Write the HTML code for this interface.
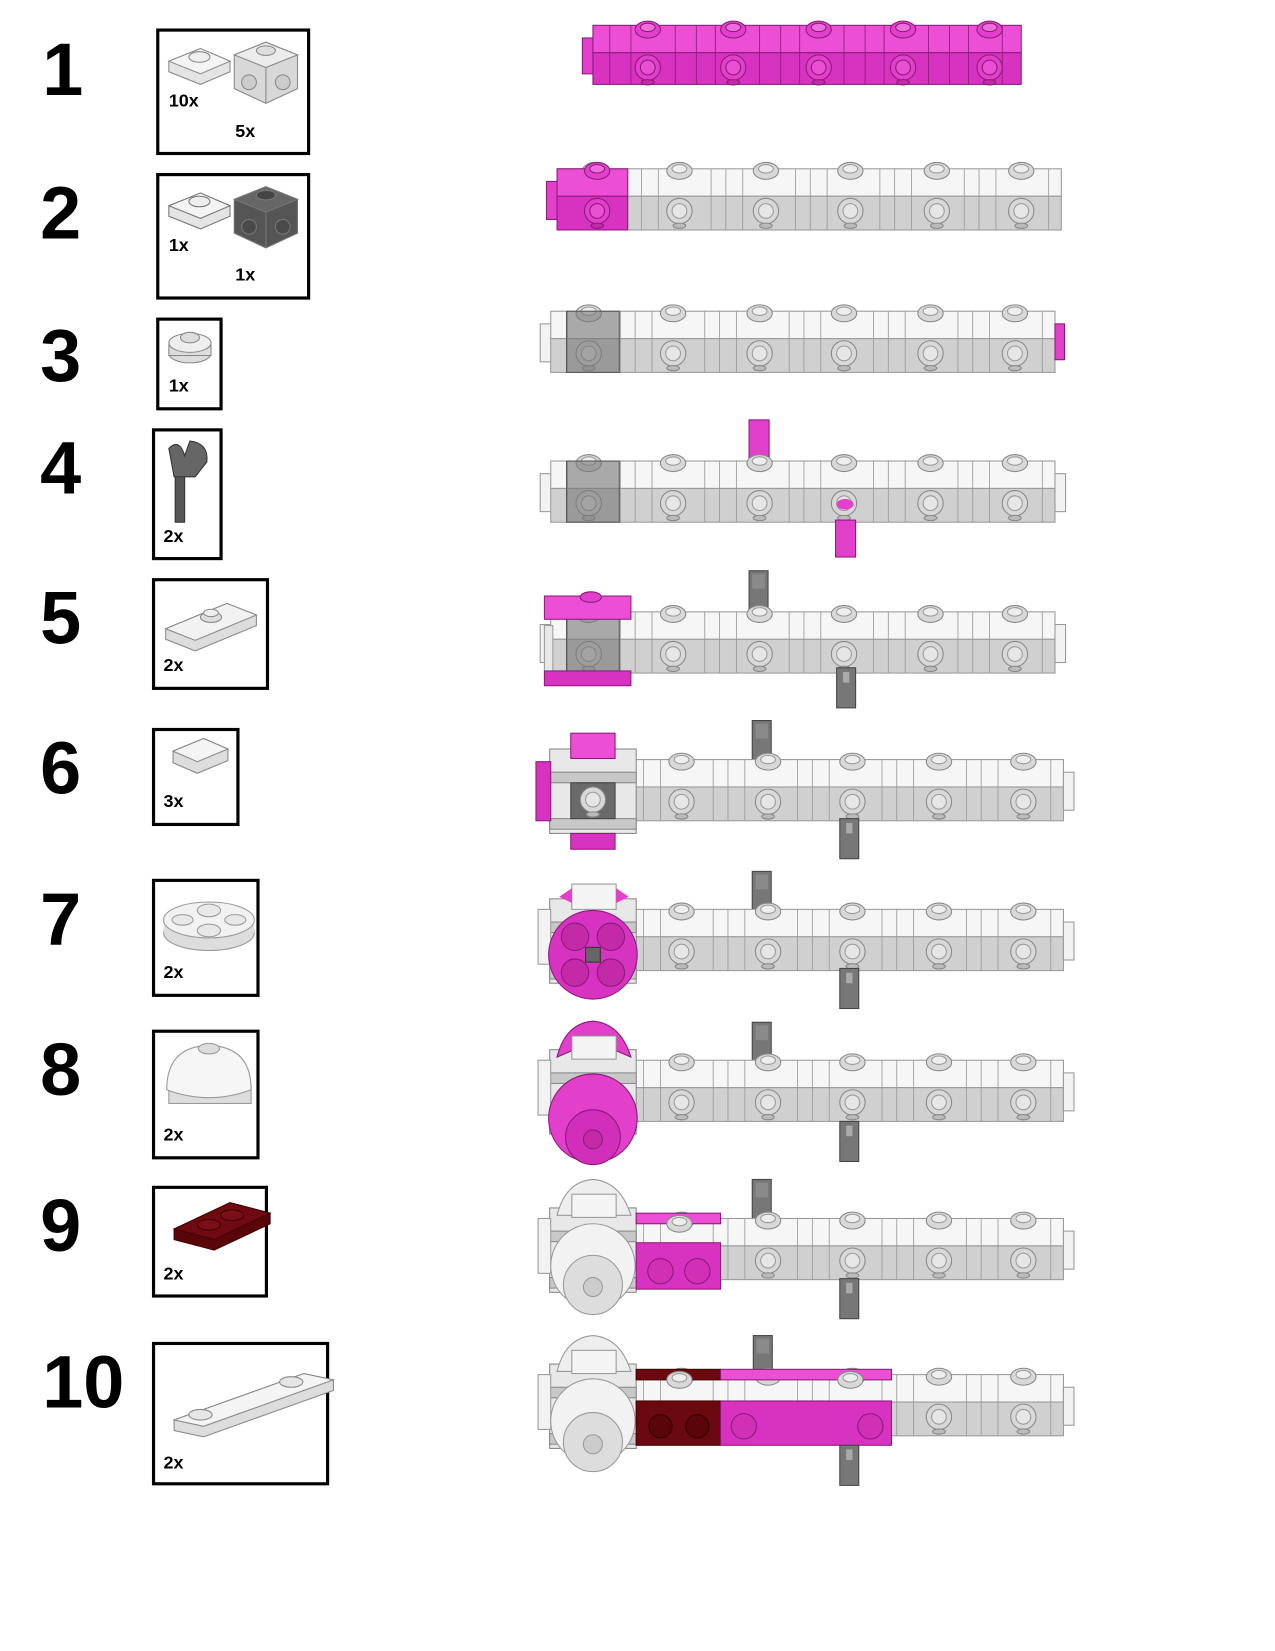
<!DOCTYPE html>
<html><head><meta charset="utf-8"><style>
html,body{margin:0;padding:0;background:#fff;}
svg{display:block;}
text{font-family:"Liberation Sans",Arial,sans-serif;font-weight:bold;fill:#000;}
</style></head><body>
<svg width="1275" height="1651" viewBox="0 0 1208.5 1565" xmlns="http://www.w3.org/2000/svg">
<defs>
  <g id="ts"><ellipse cx="0" cy="0" rx="12" ry="8" fill="#d8d8d8" stroke="#888"/><ellipse cx="0" cy="-2" rx="7" ry="4" fill="#eee" stroke="#999"/></g>
  <g id="fs"><circle cx="0" cy="0" r="12" fill="#d8d8d8" stroke="#888"/><circle cx="0" cy="0" r="7" fill="#e6e6e6" stroke="#999"/><ellipse cx="0" cy="14" rx="6" ry="2.5" fill="#bbb" stroke="#888"/></g>
  <g id="tsp"><ellipse cx="0" cy="0" rx="12" ry="8" fill="#e23fcb" stroke="#8a1a7a"/><ellipse cx="0" cy="-2" rx="7" ry="4" fill="#ee6ddc" stroke="#8a1a7a"/></g>
  <g id="fsp"><circle cx="0" cy="0" r="12" fill="#e23fcb" stroke="#8a1a7a"/><circle cx="0" cy="0" r="7" fill="#e94fd3" stroke="#8a1a7a"/><ellipse cx="0" cy="14" rx="6" ry="2.5" fill="#c22aa8" stroke="#8a1a7a"/></g>
  <g id="vl" stroke="#999" stroke-width="0.8">
    <line x1="16" y1="0" x2="16" y2="58"/><line x1="66" y1="0" x2="66" y2="58"/><line x1="80" y1="0" x2="80" y2="58"/><line x1="96" y1="0" x2="96" y2="58"/>
    <line x1="146" y1="0" x2="146" y2="58"/><line x1="160" y1="0" x2="160" y2="58"/><line x1="176" y1="0" x2="176" y2="58"/>
    <line x1="226" y1="0" x2="226" y2="58"/><line x1="240" y1="0" x2="240" y2="58"/><line x1="256" y1="0" x2="256" y2="58"/>
    <line x1="306" y1="0" x2="306" y2="58"/><line x1="320" y1="0" x2="320" y2="58"/><line x1="336" y1="0" x2="336" y2="58"/>
    <line x1="386" y1="0" x2="386" y2="58"/><line x1="400" y1="0" x2="400" y2="58"/><line x1="416" y1="0" x2="416" y2="58"/>
    <line x1="466" y1="0" x2="466" y2="58"/>
  </g>
  <g id="bar">
    <rect x="-10" y="12" width="12" height="36" fill="#f2f2f2" stroke="#999"/>
    <rect x="0" y="0" width="478" height="26" fill="#f6f6f6" stroke="#999"/>
    <rect x="0" y="26" width="478" height="32" fill="#d0d0d0" stroke="#999"/>
    <use href="#vl"/>
    <use href="#ts" x="36" y="2"/><use href="#ts" x="116" y="2"/><use href="#ts" x="198" y="2"/><use href="#ts" x="278" y="2"/><use href="#ts" x="360" y="2"/><use href="#ts" x="440" y="2"/>
    <use href="#fs" x="36" y="40"/><use href="#fs" x="116" y="40"/><use href="#fs" x="198" y="40"/><use href="#fs" x="278" y="40"/><use href="#fs" x="360" y="40"/><use href="#fs" x="440" y="40"/>
  </g>
  <g id="rstub"><rect x="478" y="12" width="10" height="36" fill="#f2f2f2" stroke="#999"/></g>
  <g id="gpin"><rect x="0" y="0" width="18" height="38" fill="#777" stroke="#444"/><rect x="3" y="3" width="12" height="14" fill="#8a8a8a"/></g>
  <g id="gpinb"><rect x="0" y="0" width="18" height="38" fill="#777" stroke="#444"/><rect x="6" y="4" width="6" height="10" fill="#aaa"/></g>
  <g id="frame">
    <rect x="0" y="-8" width="82" height="80" fill="#e8e8e8" stroke="#888"/>
    <rect x="0" y="14" width="82" height="10" fill="#c8c8c8" stroke="#888"/>
    <rect x="0" y="58" width="82" height="10" fill="#c8c8c8" stroke="#888"/>
  </g>
</defs>

<!-- numbers -->
<text x="40" y="90" font-size="70">1</text>
<text x="38" y="226" font-size="70">2</text>
<text x="38" y="361" font-size="70">3</text>
<text x="38" y="468" font-size="70">4</text>
<text x="38" y="610" font-size="70">5</text>
<text x="38" y="752" font-size="70">6</text>
<text x="38" y="896" font-size="70">7</text>
<text x="38" y="1038" font-size="70">8</text>
<text x="38" y="1186" font-size="70">9</text>
<text x="40" y="1334" font-size="70">10</text>

<!-- part boxes -->
<g fill="none" stroke="#000" stroke-width="3">
<rect x="149.5" y="28.5" width="143" height="117"/>
<rect x="149.5" y="165.5" width="143" height="117"/>
<rect x="149.5" y="302.5" width="60" height="85"/>
<rect x="145.5" y="407.5" width="64" height="122"/>
<rect x="145.5" y="549.5" width="108" height="103"/>
<rect x="145.5" y="691.5" width="80" height="90"/>
<rect x="145.5" y="834.5" width="99" height="109"/>
<rect x="145.5" y="977.5" width="99" height="120"/>
<rect x="145.5" y="1125.5" width="107" height="103"/>
<rect x="145.5" y="1273.5" width="165" height="133"/>
</g>

<!-- box icons -->
<!-- 1 -->
<g stroke="#888" stroke-width="1">
 <polygon points="160,58 190,46 218,58 218,68 190,80 160,68" fill="#e4e4e4"/>
 <polygon points="160,58 190,70 218,58 190,46" fill="#f4f4f4"/>
 <ellipse cx="189" cy="54" rx="10" ry="5" fill="#eee"/>
 <polygon points="222,52 252,40 282,52 282,84 252,98 222,84" fill="#d8d8d8"/>
 <polygon points="222,52 252,64 282,52 252,40" fill="#ececec"/>
 <line x1="252" y1="64" x2="252" y2="98"/>
 <circle cx="236" cy="78" r="7" fill="#ccc"/><circle cx="268" cy="78" r="7" fill="#ccc"/>
 <ellipse cx="252" cy="48" rx="9" ry="4.5" fill="#ddd"/>
</g>
<text x="160" y="101" font-size="17">10x</text>
<text x="223" y="130" font-size="17">5x</text>
<!-- 2 -->
<g stroke="#777" stroke-width="1">
 <polygon points="160,195 190,183 218,195 218,205 190,217 160,205" fill="#e4e4e4"/>
 <polygon points="160,195 190,207 218,195 190,183" fill="#f4f4f4"/>
 <ellipse cx="189" cy="191" rx="10" ry="5" fill="#eee"/>
 <polygon points="222,189 252,177 282,189 282,221 252,235 222,221" fill="#555"/>
 <polygon points="222,189 252,201 282,189 252,177" fill="#666"/>
 <line x1="252" y1="201" x2="252" y2="235"/>
 <circle cx="236" cy="215" r="7" fill="#4a4a4a"/><circle cx="268" cy="215" r="7" fill="#4a4a4a"/>
 <ellipse cx="252" cy="185" rx="9" ry="4.5" fill="#444"/>
</g>
<text x="160" y="238" font-size="17">1x</text>
<text x="223" y="266" font-size="17">1x</text>
<!-- 3 -->
<g stroke="#888"><ellipse cx="180" cy="335" rx="20" ry="9" fill="#ddd"/><rect x="160" y="327" width="40" height="10" fill="#ddd"/><ellipse cx="180" cy="325" rx="20" ry="9" fill="#eee"/><ellipse cx="180" cy="320" rx="9" ry="5" fill="#ddd"/></g>
<text x="160" y="371" font-size="17">1x</text>
<!-- 4 -->
<g stroke="#333"><rect x="166" y="445" width="9" height="50" fill="#555"/><path d="M160,425 Q170,415 175,432 L180,418 Q198,420 196,438 L185,452 L165,452 Z" fill="#666"/></g>
<text x="155" y="514" font-size="17">2x</text>
<!-- 5 -->
<g stroke="#888"><polygon points="157,596 215,572 243,583 243,593 185,617 157,606" fill="#ddd"/><polygon points="157,596 215,572 243,583 185,607" fill="#f2f2f2"/><ellipse cx="200" cy="585" rx="10" ry="5" fill="#ddd"/><ellipse cx="200" cy="581" rx="7" ry="3.5" fill="#eee"/></g>
<text x="155" y="636" font-size="17">2x</text>
<!-- 6 -->
<g stroke="#888"><polygon points="164,712 193,700 216,710 216,721 187,733 164,723" fill="#ddd"/><polygon points="164,712 193,700 216,710 187,722" fill="#f4f4f4"/></g>
<text x="155" y="765" font-size="17">3x</text>
<!-- 7 -->
<g stroke="#999"><ellipse cx="198" cy="884" rx="43" ry="17" fill="#ddd"/><rect x="155" y="872" width="86" height="12" fill="#ddd" stroke="none"/><ellipse cx="198" cy="872" rx="43" ry="17" fill="#f2f2f2"/><ellipse cx="198" cy="863" rx="11" ry="6" fill="#e8e8e8"/><ellipse cx="173" cy="872" rx="10" ry="5" fill="#e8e8e8"/><ellipse cx="223" cy="872" rx="10" ry="5" fill="#e8e8e8"/><ellipse cx="198" cy="882" rx="11" ry="6" fill="#e8e8e8"/></g>
<text x="155" y="927" font-size="17">2x</text>
<!-- 8 -->
<g stroke="#999"><rect x="160" y="1030" width="78" height="16" fill="#ddd"/><path d="M158,1033 Q158,992 198,991 Q238,992 238,1033 Q198,1048 158,1033 Z" fill="#f6f6f6"/><ellipse cx="198" cy="994" rx="10" ry="5" fill="#ddd"/></g>
<text x="155" y="1081" font-size="17">2x</text>
<!-- 9 -->
<g stroke="#400"><polygon points="165,1165 218,1140 256,1150 256,1160 203,1185 165,1175" fill="#5a0508"/><polygon points="165,1165 218,1140 256,1150 203,1175" fill="#6e0a10"/><ellipse cx="198" cy="1161" rx="11" ry="5" fill="#7a0f16"/><ellipse cx="220" cy="1152" rx="11" ry="5" fill="#7a0f16"/></g>
<text x="155" y="1213" font-size="17">2x</text>
<!-- 10 -->
<g stroke="#888"><polygon points="165,1346 288,1302 316,1308 316,1318 193,1362 165,1356" fill="#ddd"/><polygon points="165,1346 288,1302 316,1308 193,1352" fill="#f4f4f4"/><ellipse cx="190" cy="1341" rx="11" ry="5" fill="#e6e6e6"/><ellipse cx="276" cy="1310" rx="11" ry="5" fill="#e6e6e6"/></g>
<text x="155" y="1392" font-size="17">2x</text>

<!-- STEP 1: pink bar -->
<g>
 <rect x="552" y="36" width="12" height="34" fill="#e23fcb" stroke="#8a1a7a"/>
 <rect x="562" y="24" width="406" height="26" fill="#ec4fd6" stroke="#8a1a7a"/>
 <rect x="562" y="50" width="406" height="30" fill="#d833c0" stroke="#8a1a7a"/>
 <g stroke="#8a1a7a" stroke-width="0.8">
  <line x1="578" y1="24" x2="578" y2="80"/><line x1="598" y1="24" x2="598" y2="80"/><line x1="640" y1="24" x2="640" y2="80"/><line x1="660" y1="24" x2="660" y2="80"/><line x1="678" y1="24" x2="678" y2="80"/>
  <line x1="720" y1="24" x2="720" y2="80"/><line x1="740" y1="24" x2="740" y2="80"/><line x1="758" y1="24" x2="758" y2="80"/><line x1="800" y1="24" x2="800" y2="80"/><line x1="820" y1="24" x2="820" y2="80"/>
  <line x1="838" y1="24" x2="838" y2="80"/><line x1="880" y1="24" x2="880" y2="80"/><line x1="900" y1="24" x2="900" y2="80"/><line x1="918" y1="24" x2="918" y2="80"/><line x1="950" y1="24" x2="950" y2="80"/>
 </g>
 <use href="#tsp" x="614" y="28"/><use href="#tsp" x="695" y="28"/><use href="#tsp" x="776" y="28"/><use href="#tsp" x="856" y="28"/><use href="#tsp" x="938" y="28"/>
 <use href="#fsp" x="614" y="64"/><use href="#fsp" x="695" y="64"/><use href="#fsp" x="776" y="64"/><use href="#fsp" x="856" y="64"/><use href="#fsp" x="938" y="64"/>
</g>

<!-- STEP 2 -->
<g transform="translate(528,160)"><use href="#bar"/>
 <rect x="-10" y="12" width="12" height="36" fill="#e23fcb" stroke="#8a1a7a"/>
 <rect x="0" y="0" width="67" height="26" fill="#ec4fd6" stroke="#8a1a7a"/>
 <rect x="0" y="26" width="67" height="32" fill="#d833c0" stroke="#8a1a7a"/>
 <use href="#tsp" x="38" y="2"/><use href="#fsp" x="38" y="40"/>
</g>

<!-- STEP 3 -->
<g transform="translate(522,295)"><use href="#bar"/>
 <rect x="478" y="12" width="9" height="34" fill="#e23fcb" stroke="#8a1a7a"/>
 <rect x="15" y="0" width="50" height="58" fill="#777" fill-opacity="0.6" stroke="#555"/>
</g>

<!-- STEP 4 -->
<rect x="710" y="398" width="19" height="40" fill="#e23fcb" stroke="#8a1a7a"/>
<g transform="translate(522,437)"><use href="#bar"/><use href="#rstub"/>
 <rect x="15" y="0" width="50" height="58" fill="#777" fill-opacity="0.6" stroke="#555"/>
</g>
<rect x="792" y="493" width="19" height="35" fill="#e23fcb" stroke="#8a1a7a"/>
<ellipse cx="801" cy="478" rx="8" ry="5" fill="#e23fcb"/>

<!-- STEP 5 -->
<use href="#gpin" x="710" y="541"/>
<g transform="translate(522,580)"><use href="#bar"/><use href="#rstub"/>
 <rect x="15" y="0" width="50" height="58" fill="#777" fill-opacity="0.6" stroke="#555"/>
</g>
<rect x="516" y="565" width="82" height="22" fill="#ec4fd6" stroke="#8a1a7a"/>
<ellipse cx="560" cy="566" rx="10" ry="5" fill="#e23fcb" stroke="#8a1a7a"/>
<rect x="516" y="593" width="8" height="45" fill="#e8e8e8" stroke="#999"/>
<rect x="516" y="636" width="82" height="14" fill="#d833c0" stroke="#8a1a7a"/>
<use href="#gpinb" x="793" y="633"/>

<!-- STEP 6 -->
<use href="#gpin" x="713" y="683"/>
<g transform="translate(530,720)"><use href="#bar"/><use href="#rstub"/></g>
<g transform="translate(521,718)"><use href="#frame"/>
 <rect x="20" y="24" width="42" height="34" fill="#6a6a6a" stroke="#444"/>
 <use href="#fs" x="41" y="40"/>
</g>
<rect x="541" y="695" width="42" height="24" fill="#ec4fd6" stroke="#8a1a7a"/>
<rect x="541" y="790" width="42" height="15" fill="#d833c0" stroke="#8a1a7a"/>
<rect x="508" y="722" width="14" height="56" fill="#d833c0" stroke="#8a1a7a"/>
<use href="#gpinb" x="796" y="776"/>

<!-- STEP 7 -->
<use href="#gpin" x="713" y="826"/>
<g transform="translate(530,862)"><use href="#bar"/><use href="#rstub"/></g>
<g transform="translate(521,860)"><use href="#frame"/></g>
<rect x="510" y="862" width="12" height="52" fill="#f2f2f2" stroke="#999"/>
<rect x="542" y="838" width="42" height="24" fill="#f4f4f4" stroke="#999"/>
<path d="M530,850 L542,842 L542,856 Z" fill="#e23fcb"/><path d="M596,850 L584,842 L584,856 Z" fill="#e23fcb"/>
<circle cx="562" cy="905" r="42" fill="#d833c0" stroke="#8a1a7a"/>
<g fill="#c42aa8" stroke="#8a1a7a"><circle cx="545" cy="888" r="13"/><circle cx="579" cy="888" r="13"/><circle cx="545" cy="922" r="13"/><circle cx="579" cy="922" r="13"/></g>
<rect x="555" y="898" width="14" height="14" fill="#666" stroke="#333"/>
<use href="#gpinb" x="796" y="918"/>

<!-- STEP 8 -->
<use href="#gpin" x="713" y="969"/>
<g transform="translate(530,1005)"><use href="#bar"/><use href="#rstub"/></g>
<g transform="translate(521,1003)"><use href="#frame"/></g>
<rect x="510" y="1005" width="12" height="52" fill="#f2f2f2" stroke="#999"/>
<path d="M528,1002 Q536,970 562,968 Q588,970 598,1002 L584,996 L584,982 L542,982 L542,996 Z" fill="#e23fcb" stroke="#8a1a7a"/>
<rect x="542" y="982" width="42" height="22" fill="#f4f4f4" stroke="#999"/>
<circle cx="562" cy="1060" r="42" fill="#e23fcb" stroke="#8a1a7a"/>
<circle cx="562" cy="1078" r="26" fill="#d12fb9" stroke="#8a1a7a"/>
<circle cx="562" cy="1080" r="9" fill="#c42aa8" stroke="#8a1a7a"/>
<use href="#gpinb" x="796" y="1063"/>

<!-- STEP 9 -->
<use href="#gpin" x="713" y="1118"/>
<g transform="translate(530,1155)"><use href="#bar"/><use href="#rstub"/></g>
<g transform="translate(521,1153)"><use href="#frame"/></g>
<rect x="510" y="1155" width="12" height="52" fill="#f2f2f2" stroke="#999"/>
<path d="M528,1152 Q536,1120 562,1118 Q588,1120 598,1152 Z" fill="#eee" stroke="#999"/>
<rect x="542" y="1132" width="42" height="22" fill="#f4f4f4" stroke="#999"/>
<circle cx="562" cy="1200" r="40" fill="#f2f2f2" stroke="#999"/>
<circle cx="562" cy="1218" r="28" fill="#ddd" stroke="#999"/>
<circle cx="562" cy="1220" r="9" fill="#ccc" stroke="#999"/>
<rect x="603" y="1150" width="80" height="10" fill="#ec4fd6" stroke="#8a1a7a"/>
<rect x="603" y="1178" width="80" height="44" fill="#d833c0" stroke="#8a1a7a"/>
<circle cx="626" cy="1205" r="12" fill="#d02fb6" stroke="#8a1a7a"/><circle cx="661" cy="1205" r="12" fill="#d02fb6" stroke="#8a1a7a"/>
<use href="#ts" x="644" y="1160"/>
<use href="#gpinb" x="796" y="1212"/>

<!-- STEP 10 -->
<use href="#gpin" x="714" y="1266"/>
<g transform="translate(530,1303)"><use href="#bar"/><use href="#rstub"/></g>
<g transform="translate(521,1301)"><use href="#frame"/></g>
<rect x="510" y="1303" width="12" height="52" fill="#f2f2f2" stroke="#999"/>
<path d="M528,1300 Q536,1268 562,1266 Q588,1268 598,1300 Z" fill="#eee" stroke="#999"/>
<rect x="542" y="1280" width="42" height="22" fill="#f4f4f4" stroke="#999"/>
<circle cx="562" cy="1347" r="40" fill="#f2f2f2" stroke="#999"/>
<circle cx="562" cy="1367" r="28" fill="#ddd" stroke="#999"/>
<circle cx="562" cy="1369" r="9" fill="#ccc" stroke="#999"/>
<rect x="603" y="1298" width="80" height="10" fill="#6a0a10" stroke="#400"/>
<rect x="683" y="1298" width="162" height="10" fill="#ec4fd6" stroke="#8a1a7a"/>
<rect x="603" y="1328" width="80" height="42" fill="#6a0a10" stroke="#400"/>
<circle cx="626" cy="1352" r="11" fill="#5a0508" stroke="#300"/><circle cx="661" cy="1352" r="11" fill="#5a0508" stroke="#300"/>
<rect x="683" y="1328" width="162" height="42" fill="#d833c0" stroke="#8a1a7a"/>
<circle cx="705" cy="1352" r="12" fill="#d02fb6" stroke="#8a1a7a"/><circle cx="825" cy="1352" r="12" fill="#d02fb6" stroke="#8a1a7a"/>
<use href="#ts" x="644" y="1308"/><use href="#ts" x="806" y="1308"/>
<use href="#gpinb" x="796" y="1370"/>
</svg>
</body></html>
